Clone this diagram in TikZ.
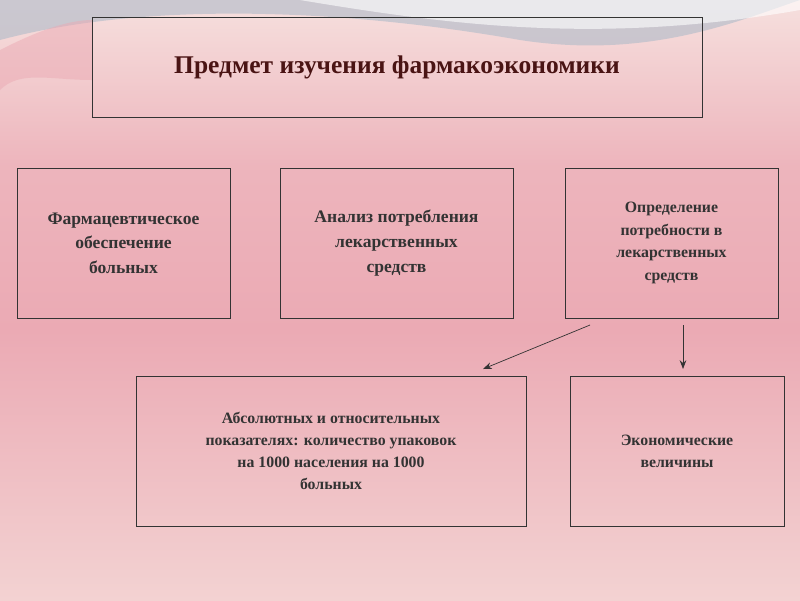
\documentclass[tikz,border=0pt]{standalone}
\usepackage{fontspec}
\setmainfont{Liberation Serif}
\usetikzlibrary{arrows.meta, calc, positioning}
\definecolor{bgtop}{HTML}{F6E0DE}
\definecolor{bgmid}{HTML}{EBAAB4}
\definecolor{bgbot}{HTML}{F3D2D2}
\definecolor{wave}{HTML}{B9BFCB}
\definecolor{titlered}{HTML}{4A1414}
\definecolor{textgray}{HTML}{333333}

\begin{document}
\begin{tikzpicture}[
  x=0.02cm, y=-0.02cm,
  font=\bfseries,
  topic/.style={draw=black!80, thin, align=center, text=textgray, font=\fontsize{10}{14}\selectfont\bfseries, inner sep=0},
  detail/.style={draw=black!80, thin, align=center, text=textgray, font=\fontsize{9}{12.5}\selectfont\bfseries, inner sep=0},
  to/.style={-{Stealth[length=5pt]}, thin, black!80}]

  % Background
  \fill[top color=bgtop, bottom color=bgmid, middle color=bgmid!80!bgtop] (0,0) rectangle (800,330);
  \fill[top color=bgmid, bottom color=bgbot] (0,330) rectangle (800,600);
  \useasboundingbox (0,0) rectangle (800,600);
  \fill[wave, opacity=.7] (0,40) .. controls (150,0) and (350,10) .. (520,40) .. controls (650,60) and (740,20) .. (800,0) -- (0,0) -- cycle;
  \fill[white, opacity=.6] (300,0) .. controls (450,25) and (600,45) .. (800,10) -- (800,0) -- cycle;
  \fill[bgmid, opacity=.5] (0,50) .. controls (20,40) and (60,20) .. (92,20) -- (92,80) .. controls (50,80) and (20,70) .. (0,90) -- cycle;

  % Title
  \node[draw=black!80, thin, minimum width=12.2cm, minimum height=2cm, text=titlered,
        font=\fontsize{14.5}{16}\selectfont\bfseries] (title) at (397,67)
        {Предмет изучения фармакоэкономики};

  % Topics
  \node[topic, minimum width=4.26cm, minimum height=3cm] (supply) at (123.5,243) {Фармацевтическое\\обеспечение\\больных};
  \node[topic, minimum width=4.66cm, minimum height=3cm] (usage) at (396.5,243) {Анализ потребления\\лекарственных\\средств};
  \node[topic, minimum width=4.26cm, minimum height=3cm, font=\fontsize{9}{13}\selectfont\bfseries] (need) at (671.5,243) {Определение\\потребности в\\лекарственных\\средств};

  % Details
  \node[detail, minimum width=7.8cm, minimum height=3cm] (indices) at (331,451) {Абсолютных и относительных\\показателях: количество упаковок\\на 1000 населения на 1000\\больных};
  \node[detail, minimum width=4.28cm, minimum height=3cm] (econ) at (677,451) {Экономические\\величины};

  \coordinate (fromA) at (590,325);
  \coordinate (fromB) at (683,325);
  \coordinate (toA) at (483,369);
  \coordinate (toB) at (683,369);
  \draw[to] (fromA) -- (toA);
  \draw[to] (fromB) -- (toB);
\end{tikzpicture}
\end{document}
